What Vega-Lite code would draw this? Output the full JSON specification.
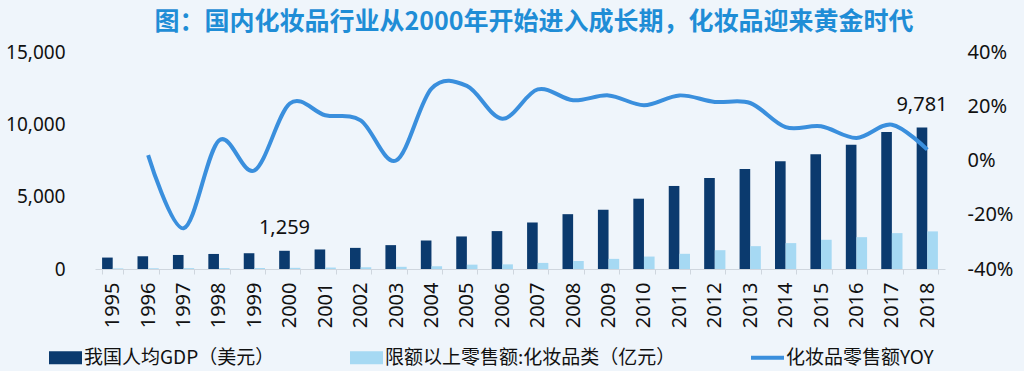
{
  "$schema": "https://vega.github.io/schema/vega-lite/v6.json",
  "width": 850,
  "height": 217,
  "autosize": "none",
  "padding": {"left": 95, "top": 52, "right": 79, "bottom": 102},
  "background": "#eff5fb",
  "title": {
    "text": "图：国内化妆品行业从2000年开始进入成长期，化妆品迎来黄金时代",
    "font": "Noto Sans CJK SC",
    "fontSize": 25,
    "fontWeight": "bold",
    "color": "#1f8dd6",
    "anchor": "middle",
    "dx": 14,
    "offset": 7
  },
  "config": {
    "view": {"stroke": null},
    "font": "Noto Sans",
    "axis": {"labelFont": "Noto Sans", "labelColor": "#111111", "grid": false}
  },
  "datasets": {
    "bars": [
      {"year": "1995", "series": "我国人均GDP（美元）", "value": 790},
      {"year": "1996", "series": "我国人均GDP（美元）", "value": 880},
      {"year": "1997", "series": "我国人均GDP（美元）", "value": 970},
      {"year": "1998", "series": "我国人均GDP（美元）", "value": 1040},
      {"year": "1999", "series": "我国人均GDP（美元）", "value": 1090},
      {"year": "2000", "series": "我国人均GDP（美元）", "value": 1259},
      {"year": "2001", "series": "我国人均GDP（美元）", "value": 1350},
      {"year": "2002", "series": "我国人均GDP（美元）", "value": 1460},
      {"year": "2003", "series": "我国人均GDP（美元）", "value": 1650},
      {"year": "2004", "series": "我国人均GDP（美元）", "value": 1970},
      {"year": "2005", "series": "我国人均GDP（美元）", "value": 2250},
      {"year": "2006", "series": "我国人均GDP（美元）", "value": 2620},
      {"year": "2007", "series": "我国人均GDP（美元）", "value": 3215},
      {"year": "2008", "series": "我国人均GDP（美元）", "value": 3790},
      {"year": "2009", "series": "我国人均GDP（美元）", "value": 4100},
      {"year": "2010", "series": "我国人均GDP（美元）", "value": 4860},
      {"year": "2011", "series": "我国人均GDP（美元）", "value": 5740},
      {"year": "2012", "series": "我国人均GDP（美元）", "value": 6290},
      {"year": "2013", "series": "我国人均GDP（美元）", "value": 6920},
      {"year": "2014", "series": "我国人均GDP（美元）", "value": 7450},
      {"year": "2015", "series": "我国人均GDP（美元）", "value": 7940},
      {"year": "2016", "series": "我国人均GDP（美元）", "value": 8590},
      {"year": "2017", "series": "我国人均GDP（美元）", "value": 9470},
      {"year": "2018", "series": "我国人均GDP（美元）", "value": 9781},
      {"year": "1995", "series": "限额以上零售额:化妆品类（亿元）", "value": 40},
      {"year": "1996", "series": "限额以上零售额:化妆品类（亿元）", "value": 50},
      {"year": "1997", "series": "限额以上零售额:化妆品类（亿元）", "value": 60},
      {"year": "1998", "series": "限额以上零售额:化妆品类（亿元）", "value": 60},
      {"year": "1999", "series": "限额以上零售额:化妆品类（亿元）", "value": 70},
      {"year": "2000", "series": "限额以上零售额:化妆品类（亿元）", "value": 80},
      {"year": "2001", "series": "限额以上零售额:化妆品类（亿元）", "value": 100},
      {"year": "2002", "series": "限额以上零售额:化妆品类（亿元）", "value": 120},
      {"year": "2003", "series": "限额以上零售额:化妆品类（亿元）", "value": 150},
      {"year": "2004", "series": "限额以上零售额:化妆品类（亿元）", "value": 190},
      {"year": "2005", "series": "限额以上零售额:化妆品类（亿元）", "value": 300},
      {"year": "2006", "series": "限额以上零售额:化妆品类（亿元）", "value": 320},
      {"year": "2007", "series": "限额以上零售额:化妆品类（亿元）", "value": 420},
      {"year": "2008", "series": "限额以上零售额:化妆品类（亿元）", "value": 555},
      {"year": "2009", "series": "限额以上零售额:化妆品类（亿元）", "value": 700},
      {"year": "2010", "series": "限额以上零售额:化妆品类（亿元）", "value": 860},
      {"year": "2011", "series": "限额以上零售额:化妆品类（亿元）", "value": 1050},
      {"year": "2012", "series": "限额以上零售额:化妆品类（亿元）", "value": 1300},
      {"year": "2013", "series": "限额以上零售额:化妆品类（亿元）", "value": 1580},
      {"year": "2014", "series": "限额以上零售额:化妆品类（亿元）", "value": 1790},
      {"year": "2015", "series": "限额以上零售额:化妆品类（亿元）", "value": 2020},
      {"year": "2016", "series": "限额以上零售额:化妆品类（亿元）", "value": 2200},
      {"year": "2017", "series": "限额以上零售额:化妆品类（亿元）", "value": 2480},
      {"year": "2018", "series": "限额以上零售额:化妆品类（亿元）", "value": 2600}
    ],
    "yoy": [
      {"year": "1996", "yoy": 2},
      {"year": "1997", "yoy": -25},
      {"year": "1998", "yoy": 7.4},
      {"year": "1999", "yoy": -3.7},
      {"year": "2000", "yoy": 21},
      {"year": "2001", "yoy": 16.7},
      {"year": "2002", "yoy": 14.8},
      {"year": "2003", "yoy": 0},
      {"year": "2004", "yoy": 26.5},
      {"year": "2005", "yoy": 27.5},
      {"year": "2006", "yoy": 15.4},
      {"year": "2007", "yoy": 26.2},
      {"year": "2008", "yoy": 22.2},
      {"year": "2009", "yoy": 24},
      {"year": "2010", "yoy": 20.4},
      {"year": "2011", "yoy": 24},
      {"year": "2012", "yoy": 21.6},
      {"year": "2013", "yoy": 21.2},
      {"year": "2014", "yoy": 12.3},
      {"year": "2015", "yoy": 12.6},
      {"year": "2016", "yoy": 8.3},
      {"year": "2017", "yoy": 13.2},
      {"year": "2018", "yoy": 4}
    ]
  },
  "encoding": {
    "x": {
      "field": "year",
      "type": "ordinal",
      "scale": {"paddingInner": 0.4, "paddingOuter": 0.2},
      "axis": {
        "title": null,
        "labelAngle": -90,
        "labelFontSize": 20,
        "domainColor": "#cfd6de",
        "tickColor": "#cfd6de",
        "tickSize": 5,
        "tickBand": "extent",
        "labelPadding": 8
      }
    }
  },
  "layer": [
    {
      "data": {"name": "bars"},
      "encoding": {
        "xOffset": {"field": "series", "type": "nominal", "scale": {"domain": ["我国人均GDP（美元）", "限额以上零售额:化妆品类（亿元）"]}},
        "y": {
          "field": "value",
          "type": "quantitative",
          "scale": {"domain": [0, 15000], "nice": false},
          "axis": {
            "title": null,
            "values": [0, 5000, 10000, 15000],
            "labelExpr": "format(datum.value, ',.0f')",
            "domain": false,
            "ticks": false,
            "labelPadding": 30,
            "labelFontSize": 19
          }
        }
      },
      "layer": [
        {
          "mark": {"type": "bar"},
          "encoding": {
            "color": {
              "field": "series",
              "type": "nominal",
              "scale": {
                "domain": ["我国人均GDP（美元）", "限额以上零售额:化妆品类（亿元）", "化妆品零售额YOY"],
                "range": ["#0b3a6e", "#a6d9f3", "#3a8fdd"]
              },
              "legend": {
                "title": null,
                "orient": "none",
                "direction": "horizontal",
                "legendX": -46,
                "legendY": 289,
                "labelFont": "Noto Sans CJK SC",
                "labelFontSize": 19,
                "labelColor": "#111111",
                "labelLimit": 500,
                "labelOffset": 2,
                "columnPadding": 75,
                "symbolSize": 1089,
                "symbolType": "M-1,-0.4H1V0.4H-1Z",
                "symbolStrokeWidth": 0,
                "encode": {
                  "symbols": {
                    "update": {
                      "shape": {"signal": "datum.label === '化妆品零售额YOY' ? 'M-1,-0.12H1V0.12H-1Z' : 'M-1,-0.4H1V0.4H-1Z'"}
                    }
                  }
                }
              }
            }
          }
        },
        {
          "transform": [{"filter": "datum.series === '我国人均GDP（美元）' && (datum.year === '2000' || datum.year === '2018')"}],
          "mark": {"type": "text", "baseline": "bottom", "dy": -13, "fontSize": 20, "font": "Noto Sans", "color": "#111111"},
          "encoding": {
            "text": {"field": "value", "type": "quantitative", "format": ",.0f"}
          }
        }
      ]
    },
    {
      "data": {"name": "yoy"},
      "mark": {"type": "line", "interpolate": "cardinal", "tension": 0, "strokeWidth": 4, "color": "#3a8fdd"},
      "encoding": {
        "y": {
          "field": "yoy",
          "type": "quantitative",
          "scale": {"domain": [-40, 40], "nice": false},
          "axis": {
            "orient": "right",
            "title": null,
            "values": [-40, -20, 0, 20, 40],
            "labelExpr": "datum.value + '%'",
            "domain": false,
            "ticks": false,
            "labelPadding": 22,
            "labelFontSize": 20
          }
        }
      }
    }
  ],
  "resolve": {"scale": {"y": "independent"}}
}
